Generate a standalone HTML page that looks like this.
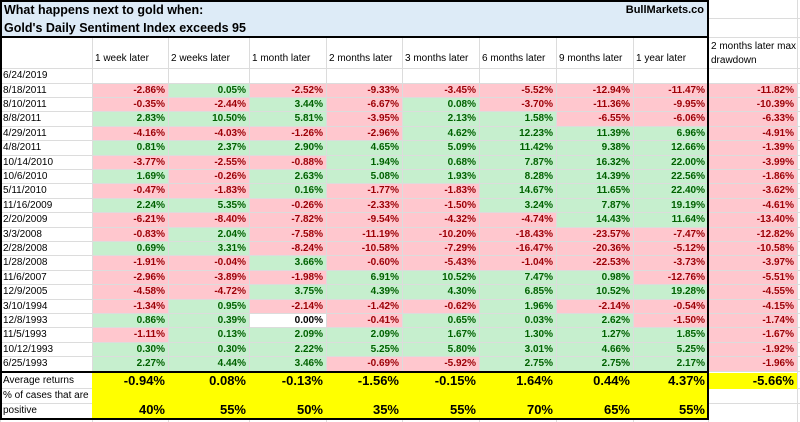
<!DOCTYPE html>
<html><head><meta charset="utf-8"><style>
body{margin:0;width:800px;height:422px;background:#fff;overflow:hidden;font-family:"Liberation Sans",Arial,sans-serif;}
#t{position:relative;width:800px;height:422px;}
.c{position:absolute;box-sizing:border-box;font-size:10px;line-height:14px;white-space:nowrap;overflow:hidden;}
.g{position:absolute;background:#dcdcdc;}
.b{position:absolute;background:#000;}
</style></head><body>
<div id="t"></div>
<script>
const colX=[0,92,168,249,326,402,479,556,633,708,797];
const headers=["","1 week later","2 weeks later","1 month later","2 months later","3 months later","6 months later","9 months later","1 year later","2 months later max\ndrawdown"];
const dates=["8/18/2011","8/10/2011","8/8/2011","4/29/2011","4/8/2011","10/14/2010","10/6/2010","5/11/2010","11/16/2009","2/20/2009","3/3/2008","2/28/2008","1/28/2008","11/6/2007","12/9/2005","3/10/1994","12/8/1993","11/5/1993","10/12/1993","6/25/1993"];
const values=[
[-2.86,0.05,-2.52,-9.33,-3.45,-5.52,-12.94,-11.47,-11.82],
[-0.35,-2.44,3.44,-6.67,0.08,-3.70,-11.36,-9.95,-10.39],
[2.83,10.50,5.81,-3.95,2.13,1.58,-6.55,-6.06,-6.33],
[-4.16,-4.03,-1.26,-2.96,4.62,12.23,11.39,6.96,-4.91],
[0.81,2.37,2.90,4.65,5.09,11.42,9.38,12.66,-1.39],
[-3.77,-2.55,-0.88,1.94,0.68,7.87,16.32,22.00,-3.99],
[1.69,-0.26,2.63,5.08,1.93,8.28,14.39,22.56,-1.86],
[-0.47,-1.83,0.16,-1.77,-1.83,14.67,11.65,22.40,-3.62],
[2.24,5.35,-0.26,-2.33,-1.50,3.24,7.87,19.19,-4.61],
[-6.21,-8.40,-7.82,-9.54,-4.32,-4.74,14.43,11.64,-13.40],
[-0.83,2.04,-7.58,-11.19,-10.20,-18.43,-23.57,-7.47,-12.82],
[0.69,3.31,-8.24,-10.58,-7.29,-16.47,-20.36,-5.12,-10.58],
[-1.91,-0.04,3.66,-0.60,-5.43,-1.04,-22.53,-3.73,-3.97],
[-2.96,-3.89,-1.98,6.91,10.52,7.47,0.98,-12.76,-5.51],
[-4.58,-4.72,3.75,4.39,4.30,6.85,10.52,19.28,-4.55],
[-1.34,0.95,-2.14,-1.42,-0.62,1.96,-2.14,-0.54,-4.15],
[0.86,0.39,0.00,-0.41,0.65,0.03,2.62,-1.50,-1.74],
[-1.11,0.13,2.09,2.09,1.67,1.30,1.27,1.85,-1.67],
[0.30,0.30,2.22,5.25,5.80,3.01,4.66,5.25,-1.92],
[2.27,4.44,3.46,-0.69,-5.92,2.75,2.75,2.17,-1.96]];
const avgReturns=["-0.94%","0.08%","-0.13%","-1.56%","-0.15%","1.64%","0.44%","4.37%","-5.66%"];
const pctPositive=["40%","55%","50%","35%","55%","70%","65%","55%"];
const T=document.getElementById('t');
function box(cls,x,y,w,h,css,txt,name){const d=document.createElement('div');d.className=cls;d.style.cssText=`left:${x}px;top:${y}px;width:${w}px;height:${h}px;`+(css||'');if(txt!==undefined)d.textContent=txt;


T.appendChild(d);return d;}
for(let i=0;i<colX.length;i++)box('g',colX[i],0,1,422,'',undefined,'grid-v');
const rowTop=82.5,rh=14.4;
for(let r=0;r<=dates.length;r++)box('g',0,Math.round(rowTop+r*rh),800,1,'',undefined,'grid-h');
[18,37,68,388,403].forEach(y=>box('g',0,y,800,1,'',undefined,'grid-h'));
box('c',1,1,707,36,'background:#ddebf7;',undefined,'title-band');
box('c',4,1,500,18,'font-weight:bold;font-size:12.5px;line-height:18px;','What happens next to gold when:','title-line1');
box('c',4,19,500,18,'font-weight:bold;font-size:12.5px;line-height:18px;',"Gold's Daily Sentiment Index exceeds 95",'title-line2');
box('c',560,1,144,18,'font-weight:bold;font-size:11px;line-height:18px;text-align:right;','BullMarkets.co','brand-label');
for(let i=1;i<headers.length;i++){
 const two=i===9;
 box('c',colX[i]+3,two?40:52,colX[i+1]-colX[i]-3,two?28:16,'white-space:pre;line-height:14px;',headers[i],'column-header');
}
box('c',3,69,90,13,'line-height:13px;','6/24/2019','date-label');
dates.forEach((d,r)=>{
 const y=Math.round(rowTop+r*rh)+1,h=Math.round(rowTop+(r+1)*rh)-y;
 box('c',3,y,88,h,'line-height:'+h+'px;',d,'date-label');
 values[r].forEach((v,j)=>{
  const c=j+1;let bg='#fff',fg='#000';
  if(v>0){bg='#c6efce';fg='#006100';}else if(v<0){bg='#ffc7ce';fg='#9c0006';}
  box('c',colX[c]+1,y,colX[c+1]-colX[c]-1,h,`background:${bg};color:${fg};font-weight:bold;text-align:right;padding-right:3px;line-height:${h}px;`,v.toFixed(2)+'%','value-cell');
 });
});
box('c',92,373,616,46,'background:#ffff00;',undefined,'summary-band');
box('c',709,373,88,16,'background:#ffff00;',undefined,'drawdown-avg-bg');
box('c',3,373,88,15,'line-height:15px;','Average returns','avg-label');
box('c',3,388,88,15,'line-height:15px;','% of cases that are','pct-label1');
box('c',3,403,88,15,'line-height:15px;','positive','pct-label2');
avgReturns.forEach((v,j)=>{const c=j+1;box('c',colX[c],373,colX[c+1]-colX[c],16,'font-weight:bold;font-size:13px;line-height:16px;text-align:right;padding-right:3px;',v,'avg-value');});
pctPositive.forEach((v,j)=>{const c=j+1;box('c',colX[c],402,colX[c+1]-colX[c],16,'font-weight:bold;font-size:13px;line-height:16px;text-align:right;padding-right:3px;',v,'pct-value');});
box('b',0,0,709,2,'',undefined,'border');
box('b',0,36,709,2,'',undefined,'border');
box('b',0,371,709,2,'',undefined,'border');
box('b',0,418,709,2,'',undefined,'border');
box('b',0,0,2,420,'',undefined,'border');
box('b',707,0,2,420,'',undefined,'border');
</script>
</body></html>
